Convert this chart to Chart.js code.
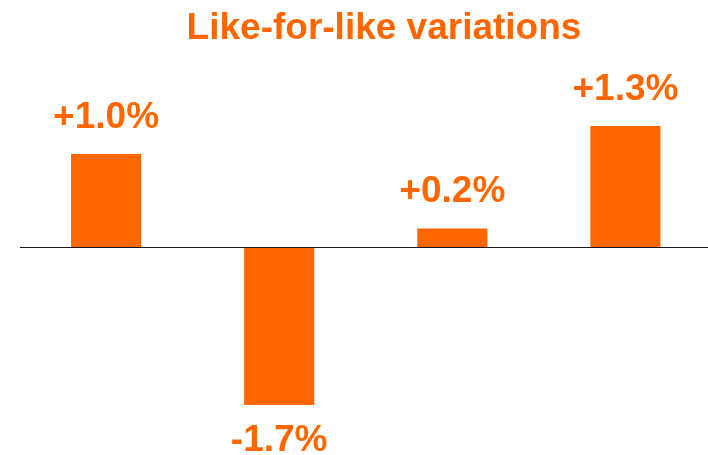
<!DOCTYPE html>
<html>
<head>
<meta charset="utf-8">
<title>Like-for-like variations</title>
<script src="https://cdn.jsdelivr.net/npm/chart.js@4/dist/chart.umd.min.js"></script>
<style>
    html, body { margin: 0; padding: 0; background: #fff; overflow: hidden; }
    #wrap { width: 708px; height: 455px; overflow: hidden; }
</style>
</head>
<body>
<div id="wrap"><canvas id="chart" width="712" height="455"></canvas></div>
<script>
// chart data
var categories = ['Period 1', 'Period 2', 'Period 3', 'Period 4'];
var variations = [1.0, -1.7, 0.2, 1.3];
var valueLabels = ['+1.0%', '-1.7%', '+0.2%', '+1.3%'];
var chartTitle = 'Like-for-like variations';

var ORANGE = '#ff6600';
var FONT = "'Liberation Sans', Arial, Helvetica, sans-serif";

// title, zero line and value labels
var decorations = {
    id: 'decorations',
    afterDatasetsDraw: function(chart) {
        var ctx = chart.ctx;
        ctx.save();

        // title, offset to the right like the original slide
        ctx.fillStyle = ORANGE;
        ctx.font = 'bold 37px ' + FONT;
        ctx.textAlign = 'center';
        ctx.textBaseline = 'alphabetic';
        ctx.fillText(chartTitle, 384, 39);

        // zero line over the bars
        var y0 = Math.round(chart.scales.y.getPixelForValue(0)) + 0.5;
        ctx.strokeStyle = '#1a1a1a';
        ctx.lineWidth = 1.2;
        ctx.beginPath();
        ctx.moveTo(20, y0);
        ctx.lineTo(708, y0);
        ctx.stroke();

        // labels above / below each bar
        ctx.font = 'bold 37px ' + FONT;
        var meta = chart.getDatasetMeta(0);
        meta.data.forEach(function(bar, i) {
            var y = variations[i] >= 0 ? bar.y - 26 : bar.y + 46;
            ctx.fillText(valueLabels[i], bar.x, y);
        });
        ctx.restore();
    }
};

new Chart(document.getElementById('chart'), {
    type: 'bar',
    data: {
        labels: categories,
        datasets: [{
            data: variations,
            backgroundColor: ORANGE,
            borderWidth: 0,
            barPercentage: 0.405,
            categoryPercentage: 1
        }]
    },
    options: {
        responsive: false,
        animation: false,
        layout: {
            padding: { left: 19.5, right: 0, top: 61, bottom: 3.4 }
        },
        plugins: {
            legend: { display: false },
            tooltip: { enabled: false },
            title: { display: false }
        },
        scales: {
            x: { display: false },
            y: { display: false, min: -2.2, max: 2.0 }
        }
    },
    plugins: [decorations]
});
</script>
</body>
</html>
